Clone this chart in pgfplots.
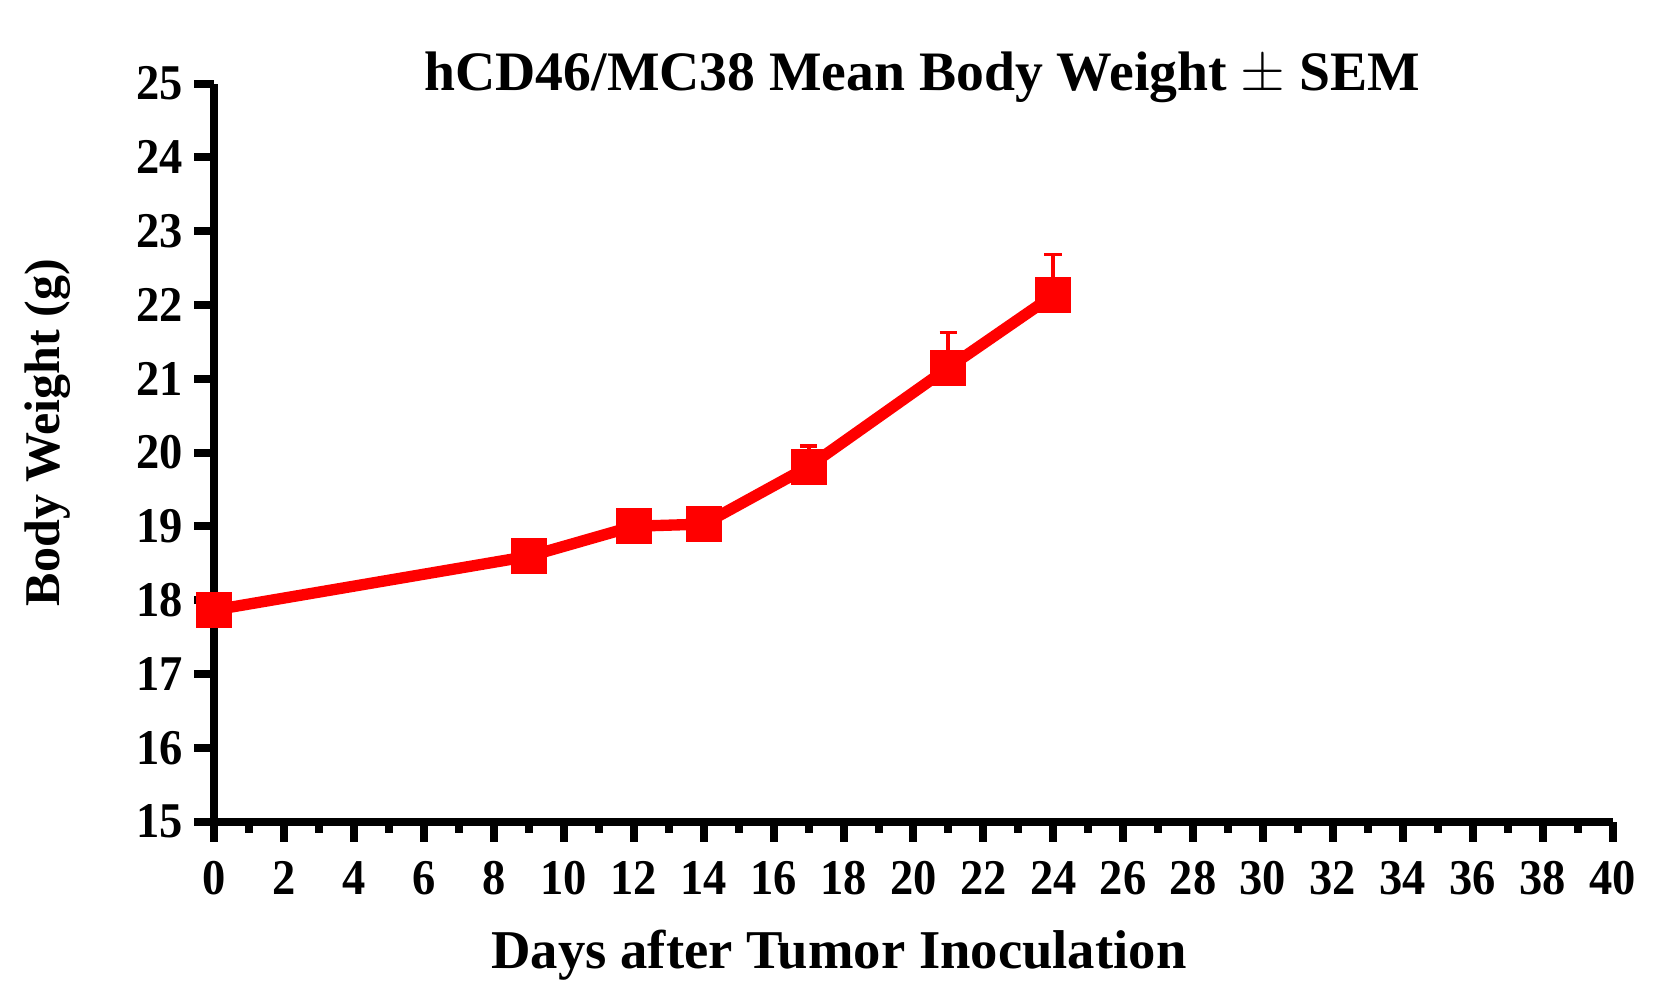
\documentclass[border=0pt]{standalone}
\usepackage{fontspec}
\setmainfont{Liberation Serif}
\newfontfamily\tickfont[FakeStretch=0.93]{Liberation Serif}
\usepackage{pgfplots}
\pgfplotsset{compat=1.18}
\begin{document}
\begin{tikzpicture}
\begin{axis}[
  scale only axis, width=419.4pt, height=221.4pt,
  xmin=0, xmax=40, ymin=15, ymax=25,
  axis x line*=bottom, axis y line*=left,
  axis line style={line width=2.4pt, black},
  xtick={0,2,...,40}, ytick={15,16,...,25},
  minor x tick num=1,
  tick align=outside,
  major tick length=6pt, minor tick length=3.3pt,
  every tick/.style={black, line width=2.4pt},
  tick label style={font=\tickfont\bfseries\fontsize{15}{17}\selectfont},
  xticklabel style={yshift=-2.4pt},
  /pgf/number format/assume math mode=true,
  clip=false,
  every axis title shift=0pt,
  title={hCD46/MC38 Mean Body Weight $\pm$ SEM},
  title style={at={(axis description cs:0.5064,0.9912)}, anchor=base, inner sep=0pt,
    font=\bfseries\fontsize{16.7}{18}\selectfont},
  xlabel={Days after Tumor Inoculation},
  xlabel style={at={(axis description cs:0.4467,-0.1985)}, anchor=base, inner sep=0pt,
    font=\bfseries\fontsize{16.4}{18}\selectfont},
  ylabel={Body Weight (g)},
  ylabel style={at={(axis description cs:-0.1191,0.5271)}, anchor=center, inner sep=0pt,
    font=\bfseries\fontsize{15}{18}\selectfont},
]
\addplot[red, line width=3.4pt, mark=square*, mark size=5.25pt,
  mark options={solid, fill=red, draw=red, line width=0pt},
  error bars/.cd, y dir=plus, y explicit,
  error bar style={line width=1.2pt, red},
  error mark options={rotate=90, mark size=2.65pt, line width=1pt, red}]
coordinates {
  (0,17.867) +- (0,0.08)
  (9,18.594) +- (0,0.10)
  (12,19.001) +- (0,0.15)
  (14,19.03) +- (0,0.15)
  (17,19.81) +- (0,0.28)
  (21,21.15) +- (0,0.48)
  (24,22.13) +- (0,0.55)
};
\end{axis}
\pgfresetboundingbox
\path (-64.35pt,-51.75pt) rectangle (439.05pt,246.45pt);
\end{tikzpicture}
\end{document}
